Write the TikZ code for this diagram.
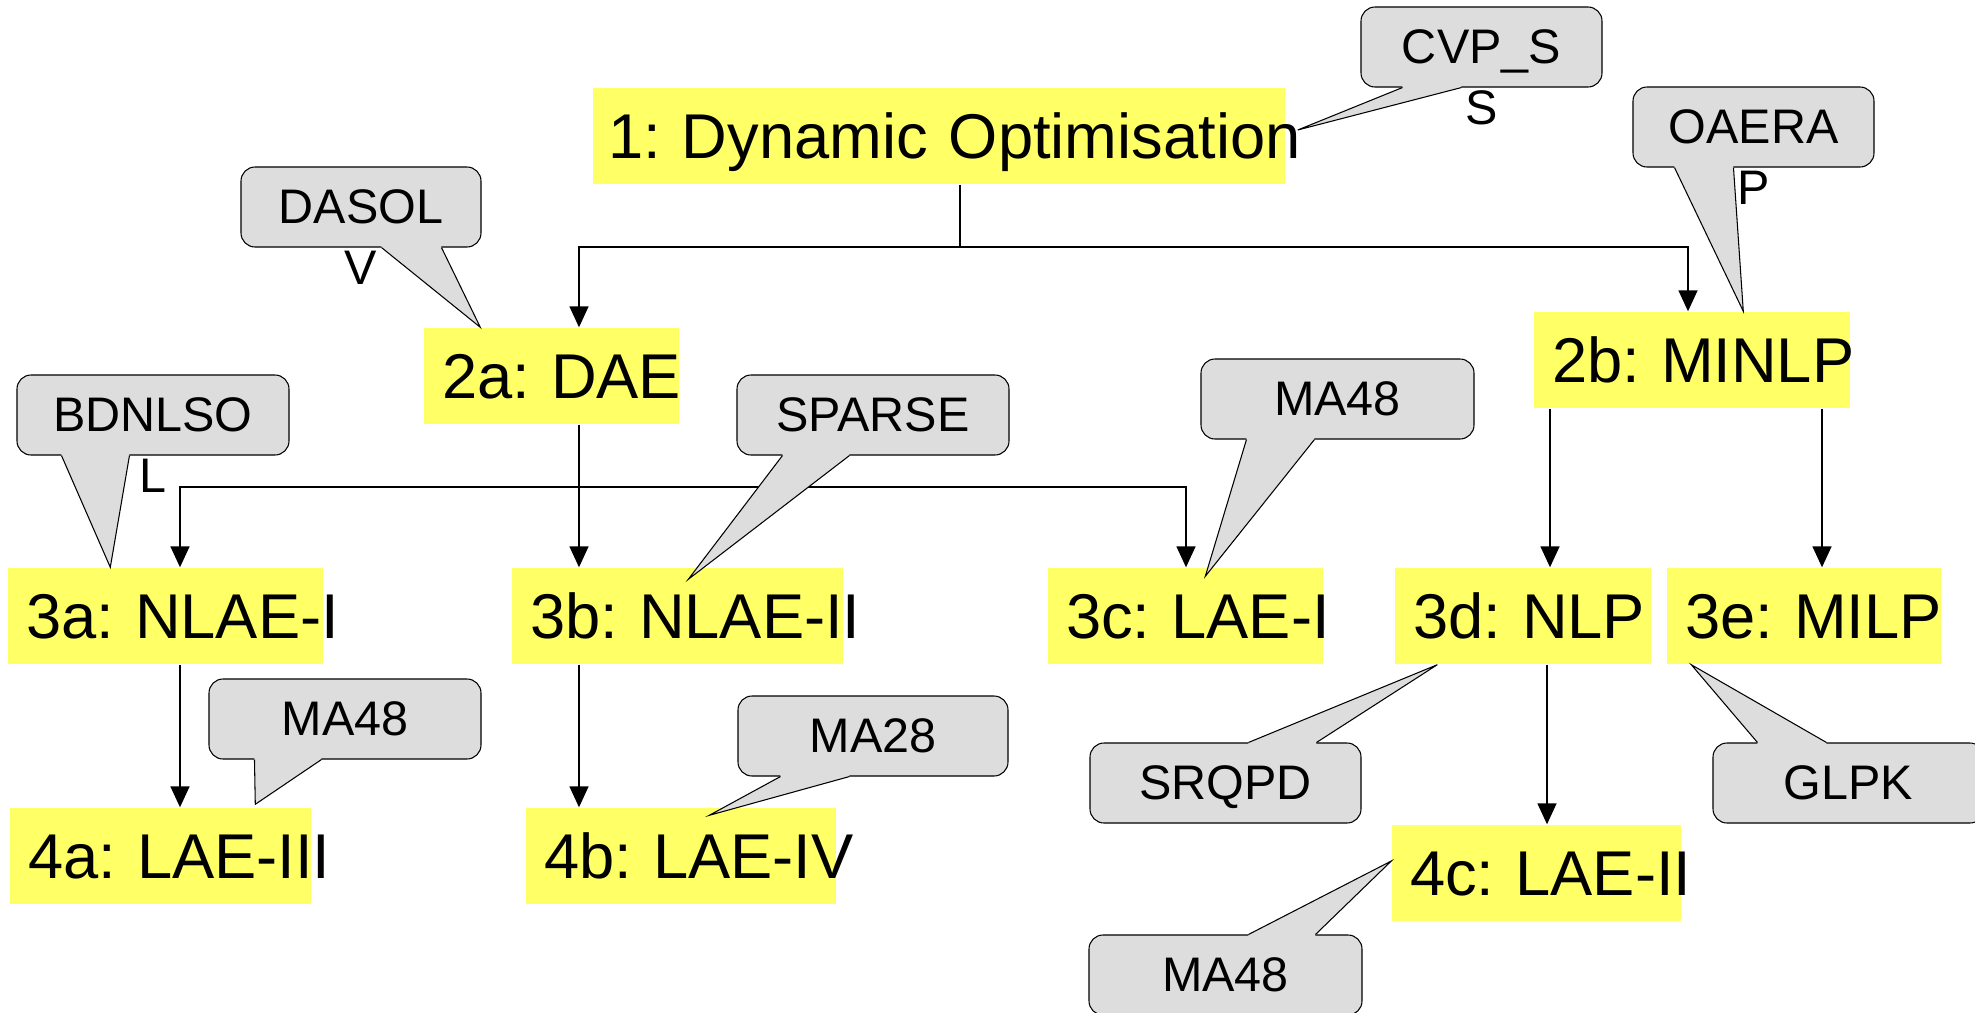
\documentclass[tikz,border=0pt]{standalone}
\usepackage{fontspec}
\setmainfont{Liberation Sans}
\frenchspacing
\usetikzlibrary{arrows.meta, calc, positioning}

\definecolor{stageyellow}{HTML}{FFFF66}
\definecolor{bubblegray}{HTML}{DDDDDD}

\tikzset{
    stage/.style={
        fill=stageyellow, inner xsep=1.8mm, inner ysep=0pt,
        minimum height=9.6mm, text height=4.5mm, text depth=0pt,
        align=left, font=\fontsize{18}{21}\selectfont
    },
    bubble/.style={
        fill=bubblegray, draw=black, line width=0.3pt, rounded corners=1.4mm,
        minimum height=8mm, inner sep=0pt, text height=3.35mm, text depth=0pt,
        font=\fontsize{13.8}{16}\selectfont
    },
    spill/.style={
        inner sep=0pt, text height=3.35mm, text depth=0pt,
        font=\fontsize{13.8}{16}\selectfont
    },
    bubbleline/.style={draw=black, line width=0.3pt},
    wire/.style={draw=black, line width=0.45pt},
    feed/.style={wire, -{Triangle[length=2.1mm, width=1.9mm]}},
}

% tail of a callout: bubble, corner, base offsets, tip
\newcommand{\calltail}[5]{%
    \coordinate (#1-a) at ($(#1.#2)+(#3,0)$);
    \coordinate (#1-b) at ($(#1.#2)+(#4,0)$);
    \fill[bubblegray] (#1-a) -- (#5) -- (#1-b)
        -- ($(#1-b)!0.8pt!-90:(#1-a)$) -- ($(#1-a)!0.8pt!90:(#1-b)$) -- cycle;
    \draw[bubbleline] (#1-a) -- (#5) -- (#1-b);
}

\begin{document}
\begin{tikzpicture}[x=0.1mm, y=-0.1mm, label distance=0.3mm]
    \useasboundingbox (0,0) rectangle (1975,1012);
    \clip (0,0) rectangle (1975,1012);

    % problem classes
    \node[stage, inner xsep=1.5mm, text width=66.2mm] (dyn) at (939,136) {\mbox{1: Dynamic Optimisation}};
    \node[stage, text width=21.9mm] (dae) at (551.5,376) {\mbox{2a: DAE}};
    \node[stage, text width=28mm] (minlp) at (1692,360) {\mbox{2b: MINLP}};
    \node[stage, text width=27.9mm] (nlaei) at (165.5,616) {\mbox{3a: NLAE-I}};
    \node[stage, text width=29.5mm] (nlaeii) at (677.5,616) {\mbox{3b: NLAE-II}};
    \node[stage, text width=23.9mm] (laei) at (1185.5,616) {\mbox{3c: LAE-I}};
    \node[stage, text width=22mm] (nlp) at (1523,616) {\mbox{3d: NLP}};
    \node[stage, text width=23.8mm] (milp) at (1804,616) {\mbox{3e: MILP}};
    \node[stage, text width=26.5mm] (laeiii) at (160.5,856) {\mbox{4a: LAE-III}};
    \node[stage, text width=27.4mm] (laeiv) at (681,856) {\mbox{4b: LAE-IV}};
    \node[stage, text width=25.3mm] (laeii) at (1536.5,873) {\mbox{4c: LAE-II}};

    % connectors
    \coordinate (bus1) at (960,247);
    \coordinate (bus2) at (579,487);
    \draw[wire] (dyn.south -| bus1) -- (bus1);
    \draw[feed] (bus1) -| (dae.north -| bus2);
    \draw[feed] (bus1) -| (minlp.north -| 1688,0);
    \draw[feed] (dae.south -| bus2) -- (nlaeii.north -| bus2);
    \draw[feed] (bus2) -| (nlaei.north -| 180,0);
    \draw[feed] (bus2) -| (laei.north -| 1186,0);
    \draw[feed] (minlp.south -| 1550,0) -- (nlp.north -| 1550,0);
    \draw[feed] (minlp.south -| 1822,0) -- (milp.north -| 1822,0);
    \draw[feed] (nlaei.south -| 180,0) -- (laeiii.north -| 180,0);
    \draw[feed] (nlaeii.south -| bus2) -- (laeiv.north -| bus2);
    \draw[feed] (nlp.south -| 1547,0) -- (laeii.north -| 1547,0);

    % solvers
    \node[bubble, minimum width=24.1mm, label={[spill]below:S}] (cvp) at (1481.5,47) {CVP\_S};
    \node[bubble, minimum width=24mm, label={[spill]below:V}] (dasol) at (361,207) {DASOL};
    \node[bubble, minimum width=27.2mm, label={[spill]below:L}] (bdnlso) at (153,415) {BDNLSO};
    \node[bubble, minimum width=24.1mm, label={[spill]below:P}] (oaera) at (1753.5,127) {OAERA};
    \node[bubble, minimum width=27.2mm] (sparse) at (873,415) {SPARSE};
    \node[bubble, minimum width=27.3mm] (ma48c) at (1337.5,399) {MA48};
    \node[bubble, minimum width=27.2mm] (ma48a) at (345,719) {MA48};
    \node[bubble, minimum width=27mm] (ma28) at (873,736) {MA28};
    \node[bubble, minimum width=27.1mm] (srqpd) at (1225.5,783) {SRQPD};
    \node[bubble, minimum width=27.1mm] (glpk) at (1848.5,783) {GLPK};
    \node[bubble, minimum width=27.3mm] (ma48d) at (1225.5,975) {MA48};

    \calltail{cvp}{south west}{42}{101}{[xshift=1.2mm, yshift=0.6mm]dyn.east}
    \calltail{dasol}{south west}{141}{201}{[xshift=5.7mm]dae.north west}
    \calltail{bdnlso}{south west}{45}{113}{[xshift=10.3mm]nlaei.north west}
    \calltail{oaera}{south west}{42}{101}{[xshift=21mm]minlp.north west}
    \calltail{sparse}{south west}{46}{113}{[xshift=17.7mm, yshift=-1.2mm]nlaeii.north west}
    \calltail{ma48c}{south west}{46}{114}{[xshift=15.8mm, yshift=-0.9mm]laei.north west}
    \calltail{ma48a}{south west}{46}{113}{[xshift=24.6mm, yshift=0.3mm]laeiii.north west}
    \calltail{ma28}{south west}{43}{112}{[xshift=18.4mm, yshift=-0.8mm]laeiv.north west}
    \calltail{srqpd}{north west}{227}{159}{[xshift=4.3mm]nlp.south west}
    \calltail{glpk}{north west}{114}{45}{[xshift=2.5mm]milp.south west}
    \calltail{ma48d}{north west}{227}{160}{[yshift=1.2mm]laeii.west}
\end{tikzpicture}
\end{document}
